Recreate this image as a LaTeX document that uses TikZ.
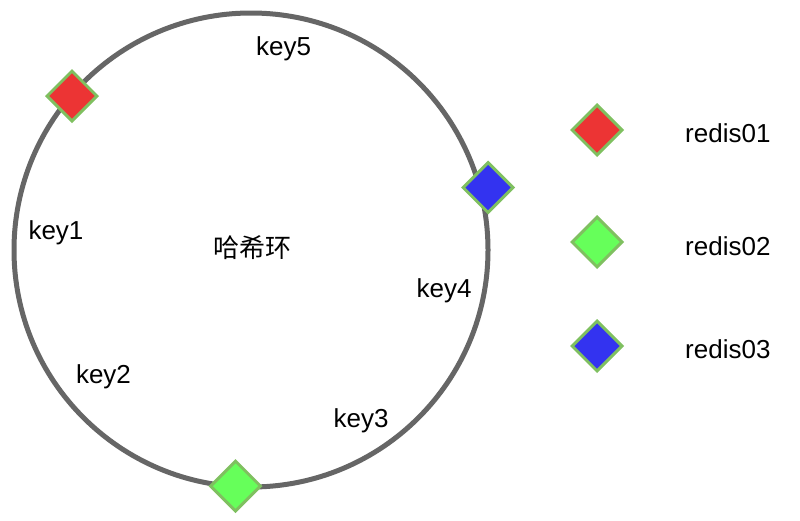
\documentclass[tikz,border=0pt]{standalone}
\usepackage{fontspec}
\setmainfont{Liberation Sans}
\newfontfamily\cjk{Noto Sans CJK SC}
\usetikzlibrary{shapes.geometric}
\definecolor{ringgray}{HTML}{666666}
\definecolor{nodeborder}{HTML}{7FC060}
\definecolor{r1fill}{HTML}{EC3434}
\definecolor{r2fill}{HTML}{66FF5A}
\definecolor{r3fill}{HTML}{3333F0}
\begin{document}
\begin{tikzpicture}[x=1pt,y=-1pt,
  ring/.style={draw=ringgray,line width=5pt},
  server/.style={diamond,aspect=1,draw=nodeborder,line width=3pt,minimum width=51pt,minimum height=51pt,inner sep=0pt},
  lbl/.style={font=\fontsize{26}{30}\selectfont,anchor=base,inner sep=0pt},
  leg/.style={font=\fontsize{26}{30}\selectfont,anchor=base west,inner sep=0pt}]
\useasboundingbox[fill=white] (0,0) rectangle (800,520);
\node[circle,ring,minimum size=474pt,inner sep=0pt] (ring) at (251,250) {};
\node[server,fill=r1fill] (s1) at (72,96) {};
\node[server,fill=r3fill] (s3) at (488,187.5) {};
\node[server,fill=r2fill] (s2) at (235.5,486) {};
\node[lbl] (k5) at (283.5,55) {key5};
\node[lbl] (k1) at (56,239) {key1};
\node[lbl] (k2) at (103.5,383) {key2};
\node[lbl] (k3) at (361,427) {key3};
\node[lbl] (k4) at (444,297) {key4};
\node[font=\cjk\fontsize{26}{30}\selectfont,inner sep=0pt] (title) at (252,248) {哈希环};
\node[server,fill=r1fill] (l1) at (597,130) {};
\node[server,fill=r2fill] (l2) at (597,242) {};
\node[server,fill=r3fill] (l3) at (597,346) {};
\node[leg] (t1) at (685,142) {redis01};
\node[leg] (t2) at (685,255) {redis02};
\node[leg] (t3) at (685,358) {redis03};
\end{tikzpicture}
\end{document}
